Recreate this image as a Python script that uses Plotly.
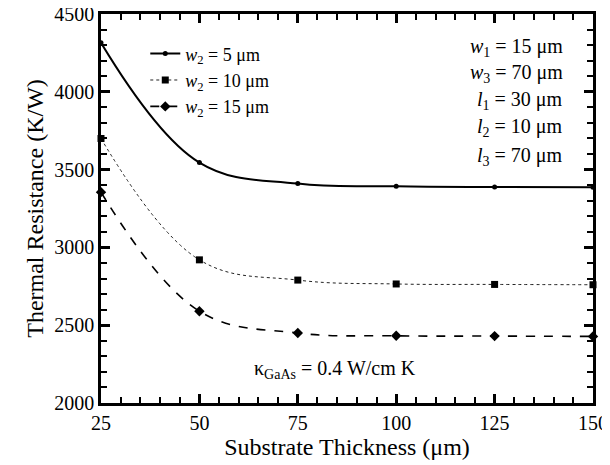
import plotly.graph_objects as go

thickness = [25, 50, 75, 100, 125, 150]
r_w5 = [4315, 3545, 3410, 3393, 3388, 3386]
r_w10 = [3700, 2920, 2790, 2765, 2762, 2760]
r_w15 = [3355, 2590, 2450, 2432, 2430, 2428]

names = ["<i>w</i><sub>2</sub> = 5 μm", "<i>w</i><sub>2</sub> = 10 μm", "<i>w</i><sub>2</sub> = 15 μm"]
params = ["<i>w</i><sub>1</sub> = 15 μm", "<i>w</i><sub>3</sub> = 70 μm",
          "<i>l</i><sub>1</sub> = 30 μm", "<i>l</i><sub>2</sub> = 10 μm",
          "<i>l</i><sub>3</sub> = 70 μm"]

FONT = "Liberation Serif, Times New Roman, serif"

fig = go.Figure()
styles = [
    (r_w5, dict(color="black", width=2, dash="solid", shape="spline", smoothing=1.1),
     dict(symbol="circle", size=5, color="black")),
    (r_w10, dict(color="#222", width=1, dash="dot", shape="spline", smoothing=1.1),
     dict(symbol="square", size=7, color="black")),
    (r_w15, dict(color="black", width=1.6, dash="dash", shape="spline", smoothing=1.1),
     dict(symbol="diamond", size=8, color="black")),
]
for (vals, line, marker), name in zip(styles, names):
    fig.add_trace(go.Scatter(x=thickness, y=vals, mode="lines+markers", name=name,
                             line=line, marker=marker, cliponaxis=False))

ys = [0.915, 0.848, 0.778, 0.707, 0.633]
for txt, yy in zip(params, ys):
    fig.add_annotation(text=txt, x=0.944, y=yy, xref="paper", yref="paper",
                       xanchor="right", yanchor="middle", align="left",
                       showarrow=False, font=dict(family=FONT, size=20, color="black"))

fig.add_annotation(text="κ<sub>GaAs</sub> = 0.4 W/cm K", x=0.475, y=0.085,
                   xref="paper", yref="paper", xanchor="center", yanchor="middle",
                   showarrow=False, font=dict(family=FONT, size=20, color="black"))

fig.update_xaxes(range=[25, 150], tick0=25, dtick=25,
                 showline=True, linecolor="black", linewidth=2.5, mirror="allticks",
                 ticks="inside", ticklen=9, tickwidth=2.5, tickcolor="#000000",
                 showgrid=False, zeroline=False, automargin=False, ticklabeloverflow="allow",
                 tickfont=dict(family=FONT, size=20, color="black"),
                 minor=dict(dtick=5, ticks="inside", ticklen=6, tickwidth=2, tickcolor="#000000", showgrid=False),
                 title=dict(text="Substrate Thickness (μm)", font=dict(family=FONT, size=24, color="black"), standoff=2))
fig.update_yaxes(range=[2000, 4500], tick0=2000, dtick=500,
                 showline=True, linecolor="black", linewidth=2.5, mirror="allticks",
                 ticks="inside", ticklen=9, tickwidth=2.5, tickcolor="#000000",
                 showgrid=False, zeroline=False, automargin=False, ticklabeloverflow="allow",
                 tickfont=dict(family=FONT, size=20, color="black"),
                 minor=dict(dtick=100, ticks="inside", ticklen=6, tickwidth=2, tickcolor="#000000", showgrid=False),
                 title=dict(text="Thermal Resistance (K/W)", font=dict(family=FONT, size=24, color="black"), standoff=4))

# the page body has an 8px default margin; sizes compensate so the plot area lands where the reference has it
fig.update_layout(
    width=602, height=457,
    margin=dict(l=93, r=17, t=6, b=62),
    paper_bgcolor="white", plot_bgcolor="white",
    showlegend=True,
    legend=dict(x=0.09, y=0.945, xanchor="left", yanchor="top", bgcolor="rgba(0,0,0,0)",
                font=dict(family=FONT, size=18, color="black"), itemwidth=30, tracegroupgap=0),
    font=dict(family=FONT, color="black"),
)

fig.write_html("out.html")
